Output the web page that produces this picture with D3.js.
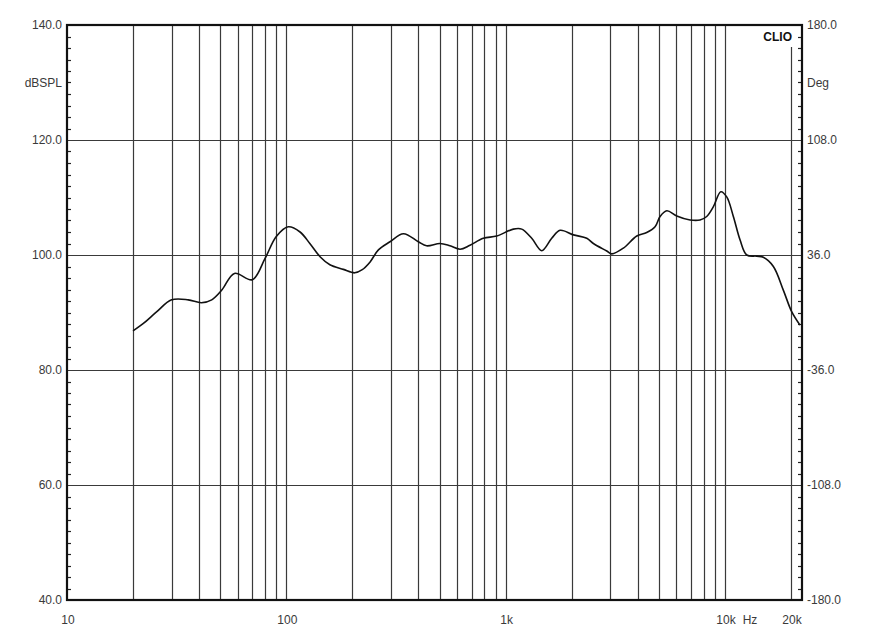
<!DOCTYPE html>
<html><head><meta charset="utf-8">
<script src="https://cdn.jsdelivr.net/npm/d3@7"></script>
<style>body{margin:0;background:#fff}svg{display:block}text{font-family:Arial,"Liberation Sans",sans-serif;}</style>
</head><body>
<script>
const freqs = [20,22.3,25.6,30,35.7,41,45.7,50.8,58,70,80,90,102,115.5,128,142.5,158,182,205,221,241,263,297,342,400,436,502,557,620,688,791,910,1084,1184,1315,1461,1622,1771,2037,2344,2512,2890,3048,3443,3962,4397,4800,5058,5431,6026,6934,7696,8257,8857,9572,10187,10920,11720,12570,13960,14960,16620,18450,20170,21990];
const spl = [86.8,88.1,90.1,92.2,92.2,91.7,92.2,93.9,96.8,95.7,99.4,103.2,104.9,104.0,102.0,99.7,98.3,97.5,96.9,97.4,98.8,100.9,102.3,103.7,102.3,101.6,102.0,101.6,101.0,101.7,102.9,103.3,104.5,104.5,102.9,100.75,102.9,104.3,103.5,102.9,102.0,100.7,100.2,101.2,103.3,103.9,104.9,106.7,107.7,106.8,106.1,106.1,106.7,108.4,111.0,110.1,106.7,102.6,100.0,99.8,99.6,98.0,93.9,90.1,87.8];
const leftTicks = [140,120,100,80,60,40];
const leftTickLabels = ["140.0","120.0","100.0","80.0","60.0","40.0"];
const rightTickLabels = ["180.0","108.0","36.0","-36.0","-108.0","-180.0"];
const gridFreqs = [20,30,40,50,60,70,80,90,100,200,300,400,500,600,700,800,900,1000,2000,3000,4000,5000,6000,7000,8000,9000,10000,20000];
const xLabelFreqs = [10,100,1000,10000,20000];
const xLabelTexts = ["10","100","1k","10k","20k"];

const W=880,H=644;
const L=67,R=802,T=25,B=600;
const svg=d3.select("body").append("svg").attr("width",W).attr("height",H);
svg.append("rect").attr("width",W).attr("height",H).attr("fill","#fff");
const x=d3.scaleLog().domain([10,22450]).range([L,R]);
const y=d3.scaleLinear().domain([40,140]).range([B,T]);
const ink="#3a3a3a";

// grid
svg.append("g").selectAll("line").data(gridFreqs).join("line")
  .attr("x1",d=>Math.round(x(d))+0.5).attr("x2",d=>Math.round(x(d))+0.5)
  .attr("y1",d=>d===20000?47:T).attr("y2",B)
  .attr("stroke","#3a3a3a").attr("stroke-width",1.2);
svg.append("g").selectAll("line").data([120,100,80,60]).join("line")
  .attr("x1",L).attr("x2",R)
  .attr("y1",d=>Math.round(y(d))+0.5).attr("y2",d=>Math.round(y(d))+0.5)
  .attr("stroke","#3a3a3a").attr("stroke-width",1.2);

// minor ticks every 2 dB
const minor=d3.range(42,140,2).filter(d=>d%20!==0);
svg.append("g").selectAll("line").data(minor).join("line")
  .attr("x1",L).attr("x2",L+4).attr("y1",d=>Math.round(y(d))+0.5).attr("y2",d=>Math.round(y(d))+0.5)
  .attr("stroke","#222").attr("stroke-width",1.2);
svg.append("g").selectAll("line").data(minor).join("line")
  .attr("x1",R-4).attr("x2",R).attr("y1",d=>Math.round(y(d))+0.5).attr("y2",d=>Math.round(y(d))+0.5)
  .attr("stroke","#222").attr("stroke-width",1.2);

// frame
svg.append("rect").attr("x",L).attr("y",T).attr("width",R-L).attr("height",B-T)
  .attr("fill","none").attr("stroke","#111").attr("stroke-width",2.2);

// curve
const line=d3.line().x(d=>x(d[0])).y(d=>y(d[1])).curve(d3.curveCatmullRom.alpha(0.5));
svg.append("path").datum(freqs.map((f,i)=>[f,spl[i]])).attr("d",line)
  .attr("fill","none").attr("stroke","#111").attr("stroke-width",1.6);

// labels
const fs=12;
svg.append("g").selectAll("text").data(leftTicks).join("text")
  .attr("x",62).attr("y",d=>y(d)+4).attr("text-anchor","end").attr("font-size",fs).attr("fill",ink)
  .text((d,i)=>leftTickLabels[i]);
svg.append("g").selectAll("text").data(leftTicks).join("text")
  .attr("x",807).attr("y",d=>y(d)+4).attr("text-anchor","start").attr("font-size",fs).attr("fill",ink)
  .text((d,i)=>rightTickLabels[i]);
svg.append("text").attr("x",62).attr("y",87).attr("text-anchor","end").attr("font-size",fs).attr("fill",ink).text("dBSPL");
svg.append("text").attr("x",807).attr("y",87).attr("text-anchor","start").attr("font-size",fs).attr("fill",ink).text("Deg");
svg.append("g").selectAll("text").data(xLabelFreqs).join("text")
  .attr("x",d=>x(d)+1).attr("y",624).attr("text-anchor","middle").attr("font-size",fs).attr("fill",ink)
  .text((d,i)=>xLabelTexts[i]);
svg.append("text").attr("x",750).attr("y",624).attr("text-anchor","middle").attr("font-size",fs).attr("fill",ink).text("Hz");
svg.append("text").attr("x",792).attr("y",41).attr("text-anchor","end").attr("font-size",12).attr("font-weight","bold").attr("fill","#111").text("CLIO");
</script>
</body></html>
